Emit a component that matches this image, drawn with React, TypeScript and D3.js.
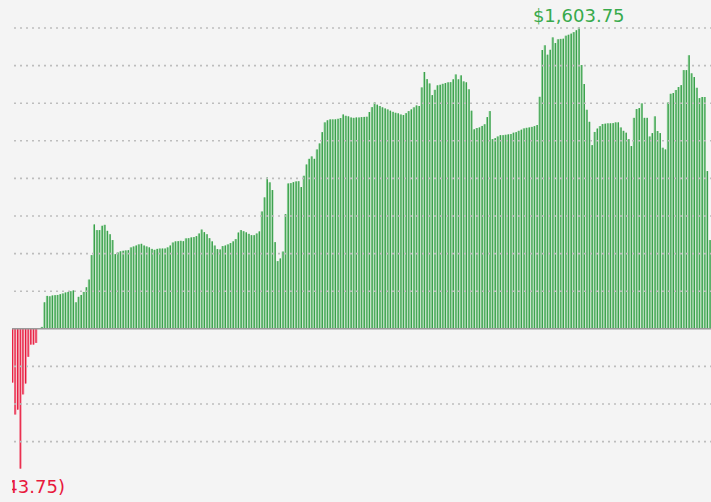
import React from "react";
import * as d3 from "d3";

// Daily P&L-like values (one per bar)
const values: number[] = [
  -286, -456, -430, -743.75, -349, -291, -149, -84, -84, -75,
  0, 10, 141, 175, 173, 177, 179, 180, 184, 188,
  193, 196, 200, 204, 141, 170, 180, 196, 221, 262,
  392, 555, 525, 525, 548, 553, 521, 503, 472, 397,
  406, 412, 415, 417, 418, 433, 438, 443, 449, 452,
  443, 438, 433, 425, 420, 425, 427, 427, 427, 433,
  443, 459, 465, 466, 468, 466, 481, 482, 486, 488,
  493, 507, 528, 514, 503, 482, 465, 443, 424, 422,
  440, 443, 449, 456, 465, 477, 512, 525, 519, 513,
  505, 498, 498, 507, 518, 624, 699, 805, 779, 738,
  461, 360, 374, 411, 610, 773, 775, 780, 784, 785,
  754, 814, 874, 904, 917, 904, 954, 986, 1046, 1098,
  1109, 1114, 1114, 1114, 1117, 1121, 1140, 1133, 1130, 1124,
  1122, 1124, 1124, 1126, 1127, 1128, 1153, 1179, 1204, 1192,
  1185, 1178, 1172, 1167, 1160, 1154, 1149, 1146, 1140, 1137,
  1147, 1158, 1167, 1178, 1188, 1185, 1284, 1366, 1328, 1305,
  1243, 1271, 1295, 1298, 1303, 1307, 1311, 1312, 1327, 1353,
  1327, 1348, 1316, 1311, 1274, 1160, 1061, 1068, 1071, 1079,
  1088, 1126, 1158, 1009, 1014, 1023, 1030, 1030, 1032, 1034,
  1036, 1043, 1046, 1053, 1059, 1066, 1069, 1071, 1074, 1078,
  1084, 1234, 1483, 1508, 1458, 1484, 1550, 1520, 1540, 1542,
  1543, 1559, 1564, 1570, 1578, 1588, 1603.75, 1403, 1302, 1165,
  1101, 977, 1047, 1065, 1078, 1089, 1091, 1093, 1093, 1094,
  1098, 1098, 1071, 1053, 1043, 1009, 972, 1122, 1169, 1174,
  1199, 1122, 1122, 1023, 1041, 1130, 1052, 1041, 963, 954,
  1204, 1250, 1254, 1270, 1286, 1296, 1376, 1376, 1455, 1359,
  1339, 1282, 1227, 1233, 1233, 839, 472,
];

const gridValues: number[] = [-600, -400, -200, 200, 400, 600, 800, 1000, 1200, 1400, 1600];

const W = 711;
const H = 502;
const STEP = 2.62;
const X0 = 11.5;

export default function App() {
  const idx = values.map((_, i) => i);
  const x = d3
    .scaleBand<number>()
    .domain(idx)
    .range([X0, X0 + values.length * STEP])
    .paddingInner(0.25)
    .paddingOuter(0.125);
  const y = d3.scaleLinear().domain([0, 1600]).range([328.8, 28]);
  const bw = x.bandwidth();

  const maxV = d3.max(values)!;
  const minV = d3.min(values)!;
  const maxI = values.indexOf(maxV);
  const minI = values.indexOf(minV);
  const fmt = d3.format("($,.2f");

  return (
    <svg
      width={W}
      height={H}
      style={{ position: "absolute", left: 0, top: 0, display: "block" }}
    >
      <defs>
        <clipPath id="plotclip">
          <rect x={12} y={0} width={W} height={H} />
        </clipPath>
      </defs>
      <rect x={0} y={0} width={W} height={H} fill="#f4f4f4" />
      <g clipPath="url(#plotclip)">
        {values.map((v, i) => {
          const x0 = x(i)!;
          const top = v >= 0 ? y(v) : y(0);
          const h = Math.abs(y(v) - y(0));
          if (h < 0.01) return null;
          const pos = v >= 0;
          return (
            <g key={i}>
              <rect
                x={x0}
                y={top}
                width={bw}
                height={h}
                fill={pos ? "#93d39d" : "#f28ea0"}
              />
              <rect
                x={pos ? x0 + bw - 1.1 : x0}
                y={top}
                width={1.1}
                height={h}
                fill={pos ? "#3a9f4b" : "#e8193c"}
              />
            </g>
          );
        })}
        {gridValues.map((g) => (
          <line
            key={g}
            x1={14}
            x2={W + 10}
            y1={y(g)}
            y2={y(g)}
            stroke="#bdbdbd"
            strokeWidth={1.6}
            strokeDasharray="2 4"
          />
        ))}
        <line
          x1={12}
          x2={W + 10}
          y1={y(0)}
          y2={y(0)}
          stroke="#9a9a9a"
          strokeWidth={1.6}
        />
        <text
          x={x(maxI)! + bw / 2}
          y={y(maxV) - 5}
          textAnchor="middle"
          fontFamily="DejaVu Sans"
          fontSize={18}
          fill="#38aa4c"
        >
          {fmt(maxV)}
        </text>
        <text
          x={x(minI)! + bw / 2}
          y={y(minV) + 24}
          textAnchor="middle"
          fontFamily="DejaVu Sans"
          fontSize={18}
          fill="#e8193c"
        >
          {fmt(minV)}
        </text>
      </g>
    </svg>
  );
}
